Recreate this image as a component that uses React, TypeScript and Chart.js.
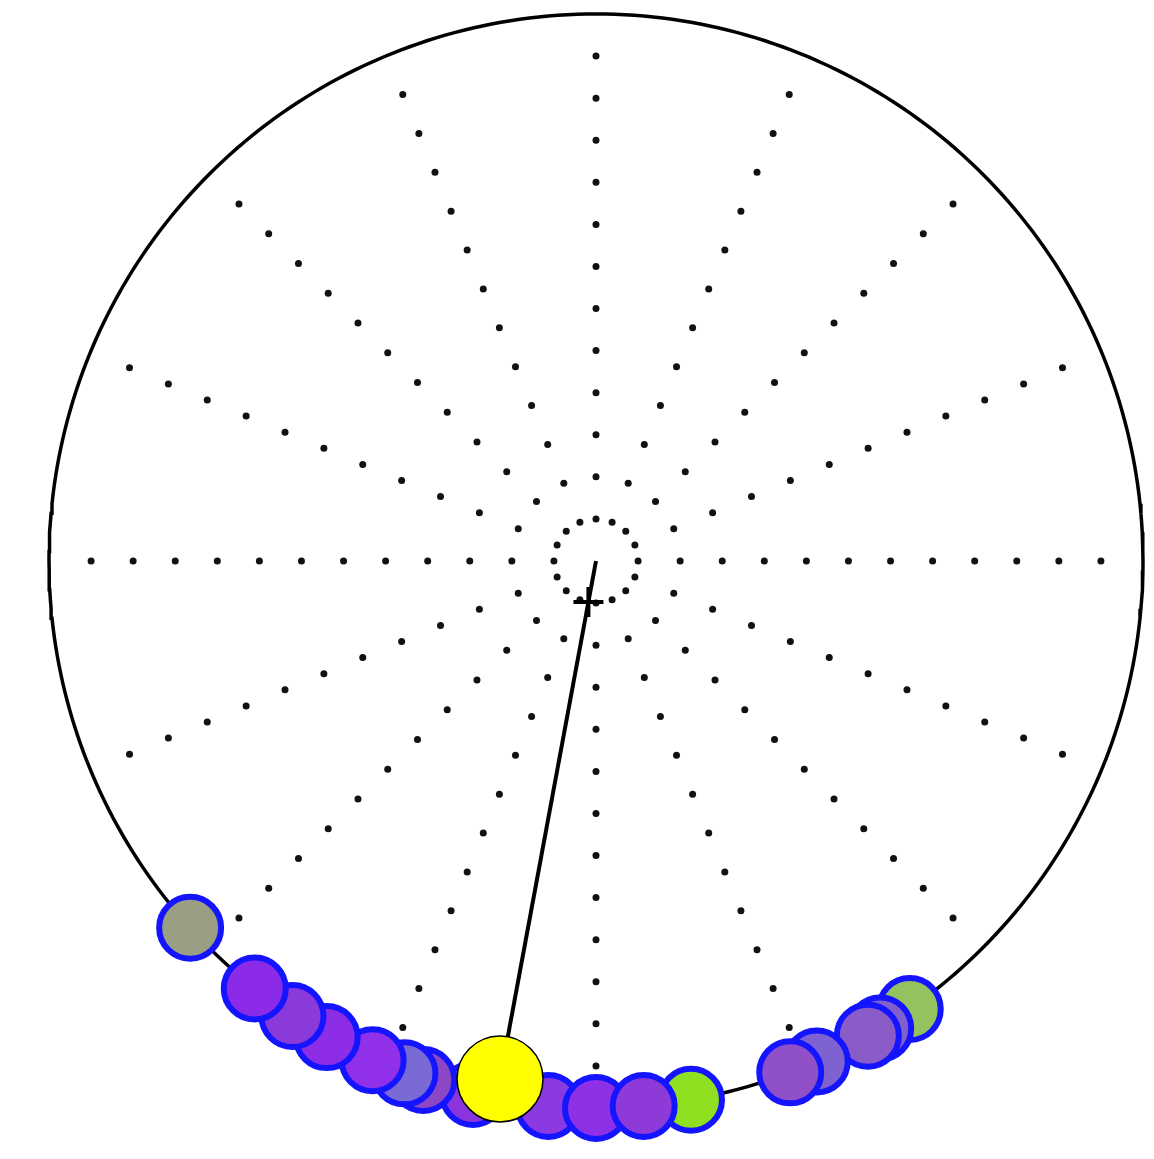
import React, { useEffect, useRef } from "react";
import { Chart, registerables } from "chart.js";

Chart.register(...registerables);

// Phase of each event, degrees clockwise from the top of the dial
const phaseDeg = [
  193.0, 198.4, 200.5, 204.1, 209.5, 213.7, 218.6, 227.9,
  170.0, 185.0, 180.0, 175.0,
  145.0, 148.7, 150.2, 156.2, 159.2,
];
// Vector length of each event (1 = on the unit circle)
const eventLength = [
  1, 1, 1, 1, 1, 1, 1, 1,
  1, 1, 1, 1,
  1, 1, 1, 1, 1,
];
// Fill colour of each event marker
const eventColor = [
  "#8a36dc", "#8c48c4", "#7a6ad4", "#9030e8", "#8d2ee6", "#8a3ad8", "#8b2be8", "#9a9e82",
  "#8ee020", "#8a3ae0", "#8e30e6", "#8d3ad8",
  "#94c25e", "#8260cc", "#8a5cc8", "#7e62d0", "#9050c8",
];

// Resultant (mean) vector
const meanPhaseDeg = 190.5;
const meanLength = 0.963;
const crossMarkLength = 0.076;

// Polar grid: 16 spokes, dots at k/13 of the radius
const spokeCount = 16;
const ringSteps = 13;

const W = 1154;
const H = 1159;
const CX = 596; // pixel position of the origin
const CY = 561;
const R = 547; // pixels per unit radius

const toXY = (deg: number, r: number) => {
  const a = (deg * Math.PI) / 180;
  return { x: r * Math.sin(a), y: r * Math.cos(a) };
};

export default function App() {
  const ref = useRef<HTMLCanvasElement | null>(null);

  useEffect(() => {
    document.body.style.margin = "0";
    document.body.style.overflow = "hidden";
    const canvas = ref.current;
    if (!canvas) return;

    const gridDots: { x: number; y: number }[] = [];
    for (let s = 0; s < spokeCount; s++) {
      const deg = (360 / spokeCount) * s;
      for (let k = 1; k < ringSteps; k++) gridDots.push(toXY(deg, k / ringSteps));
    }

    const circle: { x: number; y: number }[] = [];
    for (let d = 0; d <= 360; d += 1) circle.push(toXY(d, 1));

    const events = phaseDeg.map((p, i) => toXY(p, eventLength[i]));
    const meanEnd = toXY(meanPhaseDeg, meanLength);
    const crossMark = toXY(meanPhaseDeg, crossMarkLength);

    const chart = new Chart(canvas, {
      type: "scatter",
      data: {
        datasets: [
          {
            label: "grid",
            data: gridDots,
            pointRadius: 3.5,
            pointBackgroundColor: "#111",
            pointBorderWidth: 0,
            order: 6,
          },
          {
            label: "circle",
            data: circle,
            showLine: true,
            pointRadius: 0,
            borderColor: "#000",
            borderWidth: 3.5,
            tension: 0,
            order: 5,
          },
          {
            label: "mean vector",
            data: [{ x: 0, y: 0 }, meanEnd],
            showLine: true,
            pointRadius: 0,
            borderColor: "#000",
            borderWidth: 4,
            order: 4,
          },
          {
            label: "origin mark",
            data: [crossMark],
            pointStyle: "cross",
            pointRadius: 15,
            pointBorderColor: "#000",
            pointBorderWidth: 4,
            order: 3,
          },
          {
            label: "events",
            data: events,
            pointRadius: 31,
            pointBackgroundColor: eventColor,
            pointBorderColor: "#1414ff",
            pointBorderWidth: 6,
            order: 2,
          },
          {
            label: "mean",
            data: [meanEnd],
            pointRadius: 43,
            pointBackgroundColor: "#ffff00",
            pointBorderColor: "#000",
            pointBorderWidth: 1.5,
            order: 1,
          },
        ] as any,
      },
      options: {
        responsive: false,
        animation: false,
        events: [],
        layout: { padding: 0 },
        plugins: { legend: { display: false }, tooltip: { enabled: false } },
        scales: {
          x: { type: "linear", display: false, min: -1, max: 1 },
          y: { type: "linear", display: false, min: -1, max: 1 },
        },
        datasets: { scatter: { clip: false } } as any,
      },
    });

    // Fit the axis ranges to the plotting area so one unit spans R pixels
    const area = chart.chartArea;
    const xs = chart.options.scales!.x as any;
    const ys = chart.options.scales!.y as any;
    xs.min = -(CX - area.left) / R;
    xs.max = (area.right - CX) / R;
    ys.min = -(area.bottom - CY) / R;
    ys.max = (CY - area.top) / R;
    chart.update();

    return () => chart.destroy();
  }, []);

  return (
    <div style={{ width: W, height: H, background: "#fff" }}>
      <canvas ref={ref} width={W} height={H} style={{ display: "block" }} />
    </div>
  );
}
